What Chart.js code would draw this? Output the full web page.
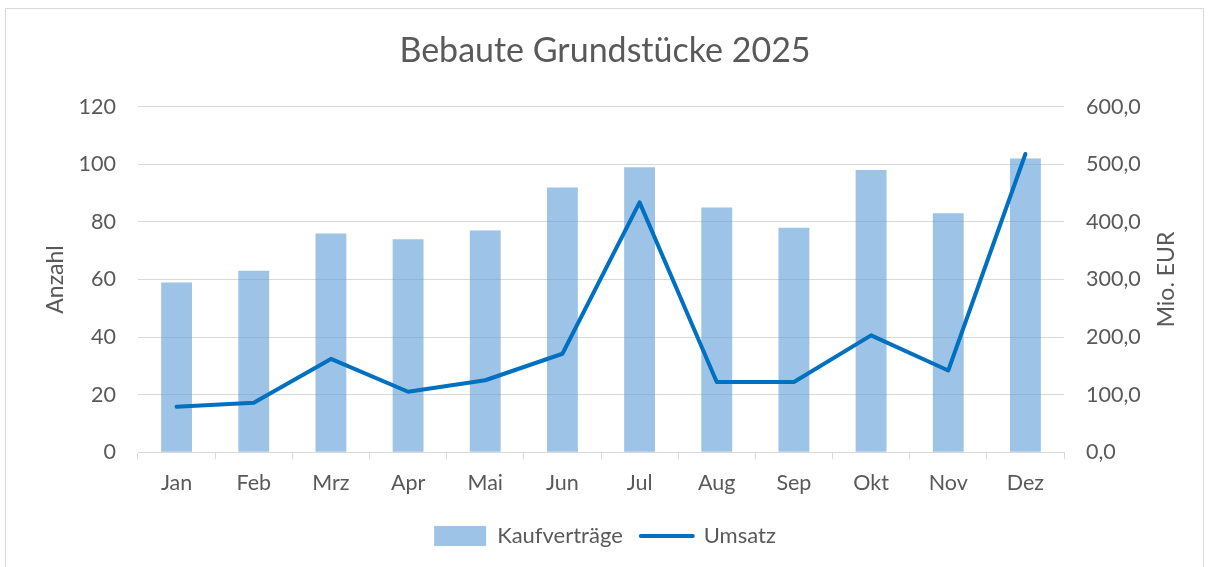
<!DOCTYPE html>
<html lang="de">
<head>
<meta charset="utf-8">
<title>Bebaute Grundstücke 2025</title>
<script src="https://cdn.jsdelivr.net/npm/chart.js@4/dist/chart.umd.min.js"></script>
<style>
  html, body { margin: 0; padding: 0; background: #fff; }
  body { width: 1210px; height: 567px; overflow: hidden; position: relative; }
  .frame {
    position: absolute; left: 5px; top: 8px; width: 1199px; height: 600px;
    border: 1px solid #d9d9d9; box-sizing: border-box;
  }
  .chart-wrap { position: absolute; left: 0; top: 0; width: 1210px; height: 567px; }
</style>
</head>
<body>
<div class="frame"></div>
<div class="chart-wrap"><canvas id="chart"></canvas></div>
<script>
/* ─── Data ───────────────────────────────────────────────────────────────── */
const months        = ['Jan', 'Feb', 'Mrz', 'Apr', 'Mai', 'Jun', 'Jul', 'Aug', 'Sep', 'Okt', 'Nov', 'Dez'];
const kaufvertraege = [59, 63, 76, 74, 77, 92, 99, 85, 78, 98, 83, 102];
const umsatz        = [79, 86, 162, 105, 125, 171, 434, 122, 122, 203, 142, 518];

/* ─── Style ──────────────────────────────────────────────────────────────── */
const FONT      = 'Lato, "Open Sans", "Noto Sans", sans-serif';
const TEXT      = '#595959';
const GRID      = '#d9d9d9';
const BAR_FILL  = 'rgba(91,155,213,0.6)';
const LINE_BLUE = '#0070C0';

function fmtDE(v) {
  return Number(v).toFixed(1).replace('.', ',');
}

/* Right axis title reads bottom-to-top, like the left one */
const rightTitle = {
  id: 'rightTitle',
  afterDraw(chart) {
    const s = chart.scales.y1;
    const ctx = chart.ctx;
    ctx.save();
    ctx.translate(s.right - 43, (chart.chartArea.top + chart.chartArea.bottom) / 2);
    ctx.rotate(-Math.PI / 2);
    ctx.font = `23px ${FONT}`;
    ctx.fillStyle = TEXT;
    ctx.textAlign = 'center';
    ctx.textBaseline = 'middle';
    ctx.fillText('Mio. EUR', 0, 0);
    ctx.restore();
  }
};

new Chart(document.getElementById('chart'), {
  data: {
    labels: months,
    datasets: [
      {
        type: 'line',
        label: 'Umsatz',
        data: umsatz,
        yAxisID: 'y1',
        borderColor: LINE_BLUE,
        backgroundColor: LINE_BLUE,
        borderWidth: 4,
        pointRadius: 0,
        tension: 0,
        borderCapStyle: 'round',
        borderJoinStyle: 'round',
        order: 1
      },
      {
        type: 'bar',
        label: 'Kaufverträge',
        data: kaufvertraege,
        yAxisID: 'y',
        backgroundColor: BAR_FILL,
        borderWidth: 0,
        barPercentage: 0.4,
        categoryPercentage: 1,
        order: 2
      }
    ]
  },
  options: {
    responsive: true,
    maintainAspectRatio: false,
    animation: false,
    layout: { padding: { left: 0, right: 0, top: 0, bottom: 10 } },
    plugins: {
      title: {
        display: true,
        text: 'Bebaute Grundstücke 2025',
        color: TEXT,
        font: { family: FONT, size: 34, weight: 'normal' },
        padding: { top: 31, bottom: 35 }
      },
      legend: {
        position: 'bottom',
        reverse: true,
        labels: {
          color: TEXT,
          font: { family: FONT, size: 22 },
          usePointStyle: true,
          pointStyleWidth: 52,
          boxHeight: 20,
          padding: 18,
          generateLabels(chart) {
            const items = Chart.defaults.plugins.legend.labels.generateLabels(chart);
            items.forEach(it => {
              const ds = chart.data.datasets[it.datasetIndex];
              if (ds.type === 'line') {
                it.pointStyle = 'line';
                it.strokeStyle = LINE_BLUE;
                it.lineWidth = 4;
                it.lineCap = 'round';
              } else {
                it.pointStyle = 'rect';
                it.fillStyle = BAR_FILL;
                it.lineWidth = 0;
              }
            });
            return items;
          }
        }
      },
      tooltip: { enabled: false }
    },
    scales: {
      x: {
        grid: {
          offset: true,
          drawOnChartArea: false,
          drawTicks: true,
          tickLength: 7,
          color: GRID
        },
        border: { color: GRID, width: 1 },
        ticks: {
          color: TEXT,
          font: { family: FONT, size: 21.5 },
          padding: 11,
          maxRotation: 0
        }
      },
      y: {
        position: 'left',
        min: 0,
        max: 120,
        ticks: {
          stepSize: 20,
          color: TEXT,
          font: { family: FONT, size: 21.5 },
          padding: 22
        },
        grid: { color: GRID, lineWidth: 1, drawTicks: false },
        border: { display: false },
        title: {
          display: true,
          text: 'Anzahl',
          color: TEXT,
          font: { family: FONT, size: 23 },
          padding: { top: 42, bottom: 0 }
        },
        afterFit(scale) { scale.width = 138; }
      },
      y1: {
        position: 'right',
        min: 0,
        max: 600,
        ticks: {
          stepSize: 100,
          color: TEXT,
          font: { family: FONT, size: 21.5 },
          padding: 22,
          callback: v => fmtDE(v)
        },
        grid: { drawOnChartArea: false, drawTicks: false },
        border: { display: false },
        afterFit(scale) { scale.width = 146; }
      }
    }
  },
  plugins: [rightTitle]
});
</script>
</body>
</html>
